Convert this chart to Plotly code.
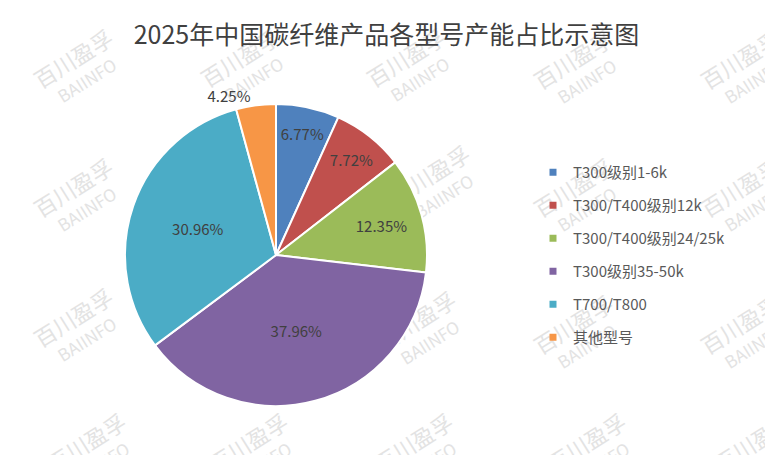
import plotly.graph_objects as go

categories = ["T300级别1-6k", "T300/T400级别12k", "T300/T400级别24/25k",
              "T300级别35-50k", "T700/T800", "其他型号"]
shares = [6.77, 7.72, 12.35, 37.96, 30.96, 4.25]
label_texts = ["6.77%", "7.72%", "12.35%", "37.96%", "30.96%", "4.25%"]
label_positions = ["inside", "inside", "inside", "inside", "inside", "outside"]
colors = ["#4F81BD", "#C0504D", "#9BBB59", "#8064A2", "#4BACC6", "#F79646"]
title_text = "2025年中国碳纤维产品各型号产能占比示意图"
watermark_text = ("<span style='font-size:22px'>百川盈孚</span><br>"
                  "<span style='font-size:17px'>BAIINFO</span>")
watermark_spots = [(83, 74), (250, 73), (416, 73), (583, 75), (750, 75),
                   (83, 203), (440, 190), (583, 203), (750, 203),
                   (83, 333), (426, 336), (583, 340), (750, 340),
                   (96, 458), (258, 458), (423, 458), (596, 458), (763, 458)]

# the page body adds an 8px margin: figure pixel = reference pixel - 8
OFF = 8
W, H = 773 - OFF, 455 - OFF
FONT = "Noto Sans CJK SC"


def px(x):
    return (x - OFF) / W


def py(y):
    return 1 - (y - OFF) / H


fig = go.Figure()
fig.add_trace(go.Pie(
    labels=categories, values=shares, text=label_texts,
    textinfo="text", textposition=label_positions,
    insidetextorientation="horizontal",
    sort=False, direction="clockwise", rotation=0,
    marker=dict(colors=colors, line=dict(color="white", width=2)),
    textfont=dict(family=FONT, size=15, color="#404040"),
    domain=dict(x=[px(125), px(427)], y=[py(406), py(104)]),
    showlegend=False, hoverinfo="label+percent",
))

for name, col in zip(categories, colors):
    fig.add_trace(go.Scatter(
        x=[None], y=[None], mode="markers", name=name,
        legendgroup=name, showlegend=True,
        marker=dict(symbol="square", size=7, color=col),
    ))

shapes = []
for (cx, cy) in watermark_spots:
    shapes.append(dict(
        type="rect", xref="paper", yref="paper", layer="below",
        x0=px(cx - 5), x1=px(cx + 5), y0=py(cy + 5), y1=py(cy - 5),
        line=dict(width=0), fillcolor="rgba(0,0,0,0)",
        label=dict(text=watermark_text, textangle=-32, textposition="middle center",
                   font=dict(family=FONT, size=18, color="#E3E3E3")),
    ))

fig.update_layout(
    width=W, height=H,
    margin=dict(l=0, r=0, t=0, b=0),
    paper_bgcolor="white", plot_bgcolor="white",
    title=dict(text=title_text, x=px(386.5), xanchor="center", y=py(35), yanchor="middle",
               font=dict(family=FONT, size=25, color="#404040")),
    xaxis=dict(visible=False), yaxis=dict(visible=False),
    legend=dict(x=px(533), xanchor="left", y=py(156), yanchor="top",
                traceorder="grouped", tracegroupgap=10.5,
                font=dict(family=FONT, size=15, color="#595959"),
                bgcolor="rgba(0,0,0,0)"),
    shapes=shapes,
)

fig.write_html("out.html")
